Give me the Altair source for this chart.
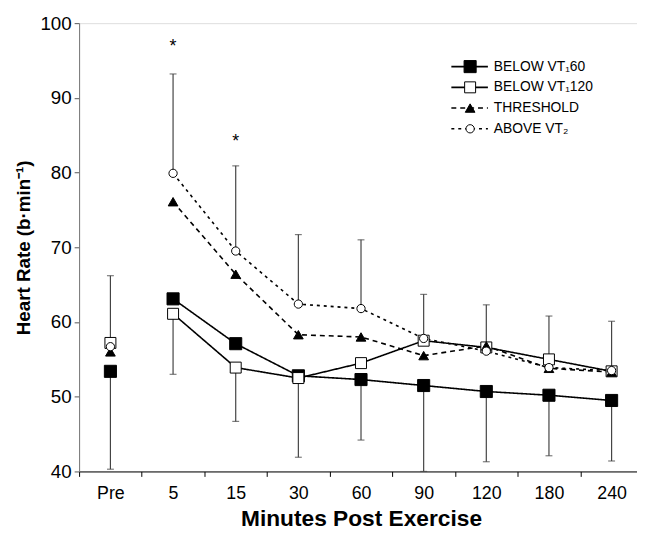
import altair as alt
import pandas as pd

cats = ["Pre", "5", "15", "30", "60", "90", "120", "180", "240"]
series = ["BELOW VT₁60", "BELOW VT₁120", "THRESHOLD", "ABOVE VT₂"]

below60 = [53.4, 63.1, 57.1, 52.8, 52.3, 51.5, 50.7, 50.2, 49.5]
below120 = [57.2, 61.1, 53.9, 52.5, 54.5, 57.5, 56.6, 55.0, 53.4]
threshold = [56.0, 76.1, 66.4, 58.3, 58.0, 55.5, 56.8, 53.8, 53.3]
above = [56.7, 79.9, 69.5, 62.4, 61.8, 57.8, 56.1, 53.9, 53.5]

err_top = [66.2, 93.2, 80.9, 71.7, 71.0, 63.7, 62.3, 60.8, 60.1]
err_top_from = [57.2, 79.9, 69.5, 62.4, 61.8, 57.8, 56.8, 55.0, 53.5]
err_bottom = [40.3, 53.0, 46.7, 41.9, 44.2, 40.0, 41.3, 42.1, 41.4]
err_bottom_from = [53.4, 61.1, 53.9, 52.5, 52.3, 51.5, 50.7, 50.2, 49.5]

star_times = ["5", "15"]
star_values = [96.8, 84.1]

rows = []
for s, vals in zip(series, [below60, below120, threshold, above]):
    for t, v in zip(cats, vals):
        rows.append({"time": t, "series": s, "value": v})
df = pd.DataFrame(rows)

err_df = pd.DataFrame({
    "time": cats, "top": err_top, "top_from": err_top_from,
    "bottom": err_bottom, "bottom_from": err_bottom_from,
})
star_df = pd.DataFrame({"time": star_times, "value": star_values, "label": ["*", "*"]})
legend_df = pd.DataFrame({"series": series})

shape_scale = alt.Scale(domain=series, range=["square", "square", "triangle-up", "circle"])
fill_scale = alt.Scale(domain=series, range=["black", "white", "black", "white"])
size_scale = alt.Scale(domain=series, range=[150, 70, 100, 80])
dash_scale = alt.Scale(domain=series, range=[[1, 0], [1, 0], [5, 4], [3, 4]])
width_scale = alt.Scale(domain=series, range=[1.6, 1.6, 2.2, 2.0])

FONT = "Liberation Sans"

x_enc = alt.X(
    "time:N", sort=cats,
    scale=alt.Scale(type="band", domain=cats, range=[0, 571], paddingInner=0, paddingOuter=0),
    axis=alt.Axis(
        title="Minutes Post Exercise", labelAngle=0, tickBand="extent",
        tickSize=5, tickColor="black", domainColor="black", labelPadding=8,
        labelFontSize=18, titleFontSize=23, titleFontWeight="bold", titlePadding=6,
        labelColor="black", titleColor="black", labelFont=FONT, titleFont=FONT,
    ),
)
y_scale = alt.Scale(domain=[40, 100], nice=False, zero=False)
y_axis = alt.Axis(
    title="Heart Rate (b·min⁻¹)", values=[40, 50, 60, 70, 80, 90, 100], grid=False,
    tickSize=5, tickColor="#555", domainColor="#777", labelPadding=3,
    labelFontSize=19, titleFontSize=19, titleFontWeight="bold", titlePadding=7,
    labelColor="black", titleColor="black", labelFont=FONT, titleFont=FONT,
)

base = alt.Chart(df)

err_up = alt.Chart(err_df).mark_rule(color="#444", strokeWidth=1.2).encode(
    x=x_enc, y=alt.Y("top_from:Q", scale=y_scale, axis=y_axis), y2="top:Q")
err_dn = alt.Chart(err_df).mark_rule(color="#444", strokeWidth=1.2).encode(
    x=x_enc, y=alt.Y("bottom_from:Q", scale=y_scale), y2="bottom:Q")
cap_up = alt.Chart(err_df).mark_tick(color="#444", thickness=1.2, size=7).encode(
    x=x_enc, y=alt.Y("top:Q", scale=y_scale))
cap_dn = alt.Chart(err_df).mark_tick(color="#444", thickness=1.2, size=7).encode(
    x=x_enc, y=alt.Y("bottom:Q", scale=y_scale))

lines = base.transform_filter("datum.time != 'Pre'").mark_line(color="black").encode(
    x=x_enc,
    y=alt.Y("value:Q", scale=y_scale),
    detail="series:N",
    strokeDash=alt.StrokeDash("series:N", scale=dash_scale, legend=None),
    strokeWidth=alt.StrokeWidth("series:N", scale=width_scale, legend=None),
)
points = base.mark_point(filled=True, stroke="black", strokeWidth=1, opacity=1).encode(
    x=x_enc,
    y=alt.Y("value:Q", scale=y_scale),
    shape=alt.Shape("series:N", scale=shape_scale, legend=None),
    fill=alt.Fill("series:N", scale=fill_scale, legend=None),
    size=alt.Size("series:N", scale=size_scale, legend=None),
)
stars = alt.Chart(star_df).mark_text(fontSize=18, font=FONT, color="black", baseline="middle").encode(
    x=x_enc, y=alt.Y("value:Q", scale=y_scale), text="label:N")

leg_y = alt.Y("series:N", scale=alt.Scale(type="point", domain=series, range=[44, 107], padding=0), axis=None)
leg_lines = alt.Chart(legend_df).mark_rule(color="black").encode(
    x=alt.value(377), x2=alt.value(414), y=leg_y,
    strokeDash=alt.StrokeDash("series:N", scale=dash_scale, legend=None),
    strokeWidth=alt.StrokeWidth("series:N", scale=width_scale, legend=None),
)
leg_pts = alt.Chart(legend_df).mark_point(filled=True, stroke="black", strokeWidth=1, opacity=1).encode(
    x=alt.value(396), y=leg_y,
    shape=alt.Shape("series:N", scale=shape_scale, legend=None),
    fill=alt.Fill("series:N", scale=fill_scale, legend=None),
    size=alt.Size("series:N", scale=size_scale, legend=None),
)
leg_text = alt.Chart(legend_df).mark_text(align="left", baseline="middle", fontSize=14, font=FONT, color="black").encode(
    x=alt.value(420), y=leg_y, text="series:N")

main = alt.layer(err_up, err_dn, cap_up, cap_dn, lines, points, stars)
legend = alt.layer(leg_lines, leg_pts, leg_text)

chart = alt.layer(main, legend).resolve_scale(y="independent").properties(
    width=565, height=454,
    autosize=alt.AutoSizeParams(type="none"),
    padding={"left": 72, "top": 12, "right": 0, "bottom": 60},
).configure_view(stroke=None).configure(background="white")

chart.save("out.html", embed_options={"renderer": "svg", "actions": False})
